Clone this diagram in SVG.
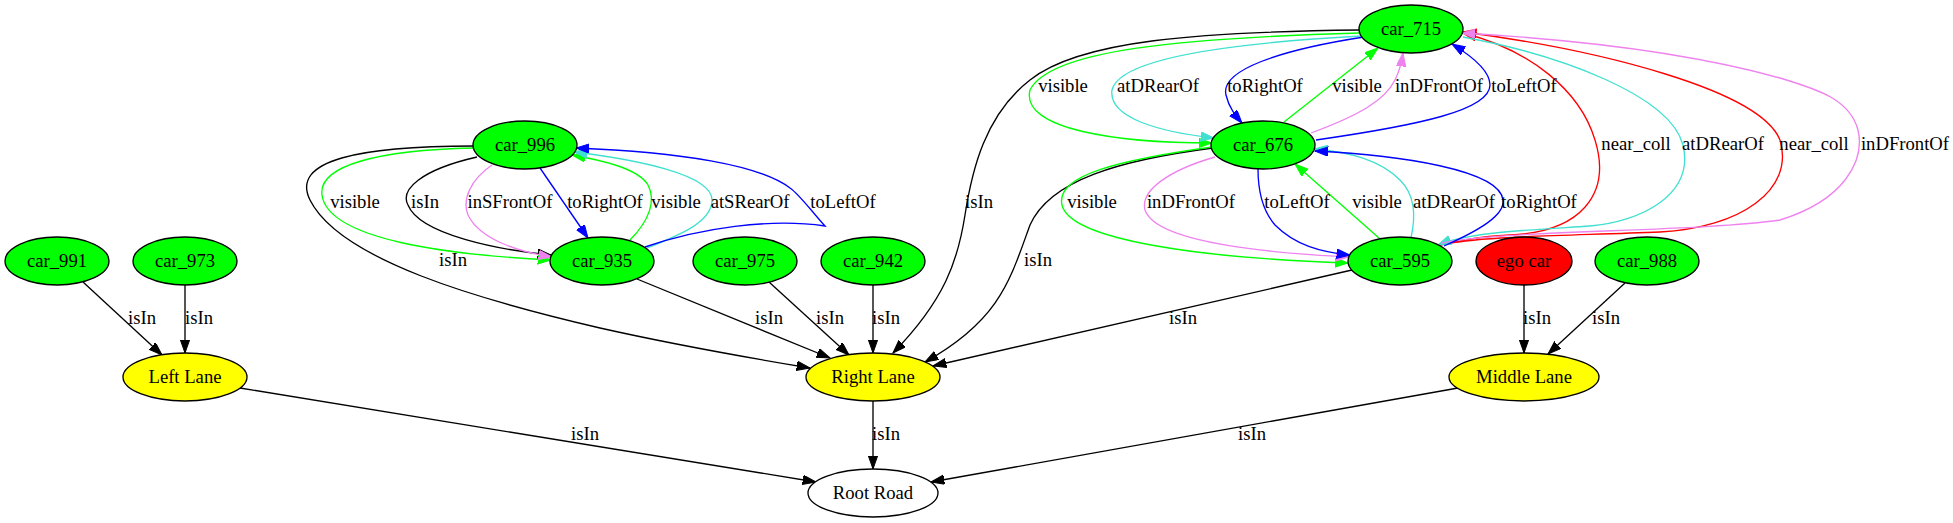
<svg xmlns="http://www.w3.org/2000/svg" width="1953" height="523" viewBox="0 0 1953 523">
<style>
text{font-family:"Liberation Serif","Times New Roman",serif;font-size:18.67px;text-anchor:middle;fill:#000}
.node ellipse{stroke:#000;stroke-width:1.33}
.g{fill:#00ff00}.y{fill:#ffff00}.r{fill:#ff0000}.w{fill:#ffffff}
#edges path{fill:none;stroke-width:1.33}
.k{stroke:#000;marker-end:url(#ak)}
.b{stroke:#0000ff;marker-end:url(#ab)}
.gr{stroke:#00ff00;marker-end:url(#ag)}
.c{stroke:#40e0d0;marker-end:url(#ac)}
.v{stroke:#ee82ee;marker-end:url(#av)}
.rd{stroke:#ff0000;marker-end:url(#ar)}
</style>
<defs>
<marker id="ak" markerUnits="userSpaceOnUse" markerWidth="15" markerHeight="11" refX="13.3" refY="4.7" orient="auto"><path d="M0,0 L13.3,4.7 L0,9.4 Z" fill="#000" stroke="#000" stroke-width="1"/></marker>
<marker id="ab" markerUnits="userSpaceOnUse" markerWidth="15" markerHeight="11" refX="13.3" refY="4.7" orient="auto"><path d="M0,0 L13.3,4.7 L0,9.4 Z" fill="#0000ff" stroke="#0000ff" stroke-width="1"/></marker>
<marker id="ag" markerUnits="userSpaceOnUse" markerWidth="15" markerHeight="11" refX="13.3" refY="4.7" orient="auto"><path d="M0,0 L13.3,4.7 L0,9.4 Z" fill="#00ff00" stroke="#00ff00" stroke-width="1"/></marker>
<marker id="ac" markerUnits="userSpaceOnUse" markerWidth="15" markerHeight="11" refX="13.3" refY="4.7" orient="auto"><path d="M0,0 L13.3,4.7 L0,9.4 Z" fill="#40e0d0" stroke="#40e0d0" stroke-width="1"/></marker>
<marker id="av" markerUnits="userSpaceOnUse" markerWidth="15" markerHeight="11" refX="13.3" refY="4.7" orient="auto"><path d="M0,0 L13.3,4.7 L0,9.4 Z" fill="#ee82ee" stroke="#ee82ee" stroke-width="1"/></marker>
<marker id="ar" markerUnits="userSpaceOnUse" markerWidth="15" markerHeight="11" refX="13.3" refY="4.7" orient="auto"><path d="M0,0 L13.3,4.7 L0,9.4 Z" fill="#ff0000" stroke="#ff0000" stroke-width="1"/></marker>
</defs>
<rect width="1953" height="523" fill="#ffffff"/>
<g id="edges">
<!-- lanes -->
<path class="k" d="M83,282 L162,355"/>
<path class="k" d="M185,285 L185,353"/>
<path class="k" d="M240,388 L816,482"/>
<path class="k" d="M873,401 L873,469"/>
<path class="k" d="M1458,388 L931,482"/>
<path class="k" d="M1524,285 L1524,353"/>
<path class="k" d="M1625,283 L1548,354"/>
<path class="k" d="M637,279 L830,358"/>
<path class="k" d="M769,282 L849,355"/>
<path class="k" d="M873,285 L873,353"/>
<path class="k" d="M474,146 C360,146 290,160 310,200 C340,260 480,300 600,328 C680,346 750,358 810,368"/>
<path class="k" d="M1360,30 C1200,32 1080,40 1030,80 C985,115 972,170 965,215 C958,260 945,300 893,353"/>
<path class="k" d="M1213,148 C1120,160 1050,180 1030,225 C1010,280 1000,320 925,362"/>
<path class="k" d="M1352,270 L933,366"/>
<!-- car_996 / car_935 -->
<path class="k" d="M477,157 C420,170 400,190 408,205 C420,235 500,250 551,255"/>
<path class="gr" d="M473,148 C380,150 318,165 322,195 C328,240 450,255 551,260"/>
<path class="v" d="M492,165 C470,180 462,200 468,215 C480,240 520,252 552,257"/>
<path class="b" d="M540,168 L588,238"/>
<path class="gr" d="M630,240 C650,220 656,200 648,185 C638,168 600,160 572,155"/>
<path class="c" d="M647,248 C680,235 712,222 712,200 C712,175 640,160 574,152"/>
<path class="b" d="M645,247 C700,228 770,218 825,226 C812,212 800,195 790,188 C760,165 680,152 576,148"/>
<!-- car_715 / car_676 -->
<path class="gr" d="M1360,33 C1180,38 1050,50 1030,90 C1020,130 1120,143 1212,143"/>
<path class="c" d="M1362,36 C1250,42 1120,55 1112,90 C1108,118 1160,132 1214,138"/>
<path class="b" d="M1364,37 C1280,50 1220,70 1226,95 C1229,108 1236,116 1242,123"/>
<path class="gr" d="M1284,122 L1378,48"/>
<path class="v" d="M1311,133 C1360,115 1385,100 1395,80 C1400,70 1402,60 1403,53"/>
<path class="b" d="M1316,140 C1420,125 1490,110 1490,85 C1490,70 1470,55 1452,44"/>
<!-- car_715 / car_595 -->
<path class="rd" d="M1444,244 C1480,237 1490,236 1510,235 C1580,232 1612,195 1595,140 C1580,90 1530,50 1463,33"/>
<path class="rd" d="M1440,245 C1480,236 1560,236 1660,232 C1740,228 1795,190 1780,140 C1760,90 1600,50 1463,32"/>
<path class="c" d="M1463,37 C1560,55 1670,95 1683,145 C1695,195 1640,222 1590,226 C1530,230 1470,232 1438,245"/>
<path class="v" d="M1442,243 C1500,230 1700,232 1780,220 C1845,200 1865,160 1858,130 C1850,100 1820,90 1780,78 C1680,50 1550,38 1462,33"/>
<!-- car_676 / car_595 -->
<path class="gr" d="M1212,147 C1120,160 1055,175 1062,205 C1070,240 1200,258 1348,263"/>
<path class="v" d="M1215,157 C1170,170 1140,190 1145,210 C1155,240 1250,252 1349,257"/>
<path class="b" d="M1258,169 C1258,190 1262,210 1275,225 C1295,245 1320,252 1350,255"/>
<path class="gr" d="M1379,238 L1295,164"/>
<path class="c" d="M1411,238 C1416,215 1415,195 1400,180 C1380,160 1350,152 1314,149"/>
<path class="b" d="M1444,246 C1480,230 1505,215 1503,200 C1500,170 1400,155 1315,151"/>
</g>
<g id="edge-labels">
<text x="1063" y="92">visible</text>
<text x="1158" y="92">atDRearOf</text>
<text x="1265" y="92">toRightOf</text>
<text x="1357" y="92">visible</text>
<text x="1439" y="92">inDFrontOf</text>
<text x="1524" y="92">toLeftOf</text>
<text x="1636" y="150">near_coll</text>
<text x="1723" y="150">atDRearOf</text>
<text x="1814" y="150">near_coll</text>
<text x="1905" y="150">inDFrontOf</text>
<text x="355" y="208">visible</text>
<text x="425" y="208">isIn</text>
<text x="510" y="208">inSFrontOf</text>
<text x="605" y="208">toRightOf</text>
<text x="676" y="208">visible</text>
<text x="750" y="208">atSRearOf</text>
<text x="843" y="208">toLeftOf</text>
<text x="979" y="208">isIn</text>
<text x="1092" y="208">visible</text>
<text x="1191" y="208">inDFrontOf</text>
<text x="1297" y="208">toLeftOf</text>
<text x="1377" y="208">visible</text>
<text x="1454" y="208">atDRearOf</text>
<text x="1539" y="208">toRightOf</text>
<text x="453" y="266">isIn</text>
<text x="1038" y="266">isIn</text>
<text x="142" y="324">isIn</text>
<text x="199" y="324">isIn</text>
<text x="769" y="324">isIn</text>
<text x="830" y="324">isIn</text>
<text x="886" y="324">isIn</text>
<text x="1183" y="324">isIn</text>
<text x="1537" y="324">isIn</text>
<text x="1606" y="324">isIn</text>
<text x="585" y="440">isIn</text>
<text x="886" y="440">isIn</text>
<text x="1252" y="440">isIn</text>
</g>
<g id="car_715" class="node"><ellipse class="g" cx="1411" cy="29" rx="52" ry="24"/><text x="1411" y="35">car_715</text></g>
<g id="car_996" class="node"><ellipse class="g" cx="525" cy="145" rx="52" ry="24"/><text x="525" y="151">car_996</text></g>
<g id="car_676" class="node"><ellipse class="g" cx="1263" cy="145" rx="52" ry="24"/><text x="1263" y="151">car_676</text></g>
<g id="car_991" class="node"><ellipse class="g" cx="57" cy="261" rx="52" ry="24"/><text x="57" y="267">car_991</text></g>
<g id="car_973" class="node"><ellipse class="g" cx="185" cy="261" rx="52" ry="24"/><text x="185" y="267">car_973</text></g>
<g id="car_935" class="node"><ellipse class="g" cx="602" cy="261" rx="52" ry="24"/><text x="602" y="267">car_935</text></g>
<g id="car_975" class="node"><ellipse class="g" cx="745" cy="261" rx="52" ry="24"/><text x="745" y="267">car_975</text></g>
<g id="car_942" class="node"><ellipse class="g" cx="873" cy="261" rx="52" ry="24"/><text x="873" y="267">car_942</text></g>
<g id="car_595" class="node"><ellipse class="g" cx="1400" cy="261" rx="52" ry="24"/><text x="1400" y="267">car_595</text></g>
<g id="ego_car" class="node"><ellipse class="r" cx="1524" cy="261" rx="48" ry="24"/><text x="1524" y="267">ego car</text></g>
<g id="car_988" class="node"><ellipse class="g" cx="1647" cy="261" rx="52" ry="24"/><text x="1647" y="267">car_988</text></g>
<g id="left_lane" class="node"><ellipse class="y" cx="185" cy="377" rx="62" ry="24"/><text x="185" y="383">Left Lane</text></g>
<g id="right_lane" class="node"><ellipse class="y" cx="873" cy="377" rx="67" ry="24"/><text x="873" y="383">Right Lane</text></g>
<g id="middle_lane" class="node"><ellipse class="y" cx="1524" cy="377" rx="75" ry="24"/><text x="1524" y="383">Middle Lane</text></g>
<g id="root_road" class="node"><ellipse class="w" cx="873" cy="493" rx="65" ry="24"/><text x="873" y="499">Root Road</text></g>
</svg>
